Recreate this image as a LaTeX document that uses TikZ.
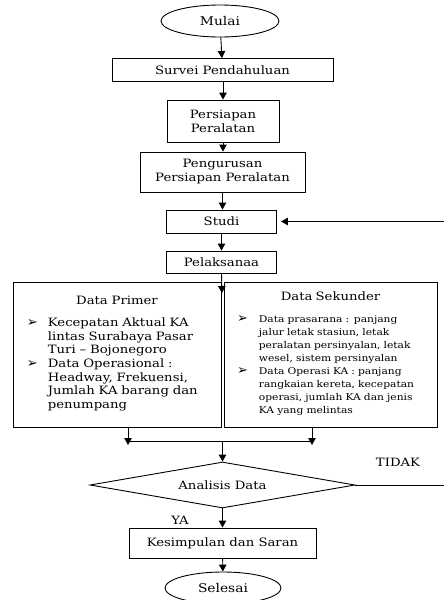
\documentclass[tikz,border=0pt]{standalone}
\usepackage{fontspec}
\setmainfont{DejaVu Serif}[FakeStretch=1.15]
\newfontfamily\simbol{DejaVu Sans}
\usetikzlibrary{shapes.geometric,arrows.meta,positioning}
\newcommand{\butir}{{\simbol\fontsize{13}{12}\selectfont ➢}}
\tikzset{
  garis/.style={line width=0.9pt, draw=black},
  panah/.style={garis, -{Triangle[length=7pt,width=7.5pt]}},
  kotak/.style={garis, rectangle, inner sep=2pt, align=center, font=\fontsize{11.5}{14}\selectfont},
  terminal/.style={garis, ellipse, minimum width=118pt, minimum height=32pt, inner sep=0pt, font=\fontsize{12}{14}\selectfont},
  keputusan/.style={garis, diamond, aspect=5.76, inner sep=0pt, minimum width=265pt, minimum height=46pt, font=\fontsize{11.5}{14}\selectfont}
}
\begin{document}
\begin{tikzpicture}[x=1pt, y=-1pt]
    \useasboundingbox (0,0) rectangle (444,600);
    % alur utama
    \node[terminal] (mulai) at (220,21) {Mulai};
    \node[kotak, minimum width=221pt, minimum height=23pt] (survei) at (222.5,70) {Survei Pendahuluan};
    \node[kotak, minimum width=112pt, minimum height=42pt] (persiapan) at (223,121) {Persiapan\\Peralatan};
    \node[kotak, minimum width=165pt, minimum height=40pt] (pengurusan) at (222.5,172) {Pengurusan\\Persiapan Peralatan};
    \node[kotak, minimum width=110pt, minimum height=23pt] (studi) at (221.5,221.5) {Studi};
    \node[kotak, minimum width=110pt, minimum height=22pt] (pelaksanaan) at (221.5,262) {Pelaksanaa};
    % data primer dan sekunder
    \node[kotak, align=left, text width=180pt, inner xsep=14pt, minimum height=145pt, font=\fontsize{11.5}{13.7}\selectfont] (primer) at (117,354.5) {%
      \centering Data Primer\par\vspace{11pt}
      \raggedright\noindent
      \begin{tabular}{@{}l@{\hspace{10pt}}l@{}}
        \butir & Kecepatan Aktual KA\\
               & lintas Surabaya Pasar\\
               & Turi -- Bojonegoro\\
        \butir & Data Operasional :\\
               & Headway, Frekuensi,\\
               & Jumlah KA barang dan\\
               & penumpang
      \end{tabular}};
    \node[kotak, align=left, text width=187pt, inner xsep=13pt, minimum height=145pt, font=\fontsize{9.3}{13}\selectfont] (sekunder) at (330.5,354.5) {%
      \centering {\fontsize{11.5}{13}\selectfont Data Sekunder}\par\vspace{12pt}
      \raggedright\noindent
      \begin{tabular}{@{}l@{\hspace{11pt}}l@{}}
        \butir & Data prasarana : panjang\\
               & jalur letak stasiun, letak\\
               & peralatan persinyalan, letak\\
               & wesel, sistem persinyalan\\
        \butir & Data Operasi KA : panjang\\
               & rangkaian kereta, kecepatan\\
               & operasi, jumlah KA dan jenis\\
               & KA yang melintas
      \end{tabular}};
    % analisis dan akhir
    \node[keputusan] (analisis) at (222.5,485) {Analisis Data};
    \node[kotak, minimum width=187pt, minimum height=30pt] (kesimpulan) at (222.5,543) {Kesimpulan dan Saran};
    \node[terminal, minimum width=116pt] (selesai) at (223,588) {Selesai};
    % titik bantu
    \coordinate (cabang) at (222,293);
    \coordinate (kiri) at (128,441);
    \coordinate (kanan) at (312,441);
    \coordinate (gabung) at (222.5,441);
    \coordinate (balik) at (450,485);
    % panah
    \draw[panah] (mulai) -- (survei);
    \draw[panah] (survei.south -| persiapan.north) -- (persiapan.north);
    \draw[panah] (persiapan.south) -- (persiapan.south |- pengurusan.north);
    \draw[panah] (pengurusan.south) -- (pengurusan.south |- studi.north);
    \draw[panah] (studi) -- (pelaksanaan);
    \draw[panah] (pelaksanaan.south) -- (cabang);
    \draw[panah] (primer.south -| kiri) -- ([yshift=-4pt]kiri);
    \draw[panah] (sekunder.south -| kanan) -- ([yshift=-4pt]kanan);
    \draw[garis] (kiri) -- (kanan);
    \draw[panah] (gabung) -- (analisis.north);
    \draw[panah] (analisis) -- (kesimpulan);
    \draw[panah] (kesimpulan) -- (selesai);
    \draw[panah] (analisis.east) -- (balik) |- ([xshift=4pt]studi.east);
    % label
    \node[font=\fontsize{11.5}{14}\selectfont] (tidak) at (398,462) {TIDAK};
    \node[font=\fontsize{11.5}{14}\selectfont] (ya) at (180,520) {YA};
\end{tikzpicture}
\end{document}
